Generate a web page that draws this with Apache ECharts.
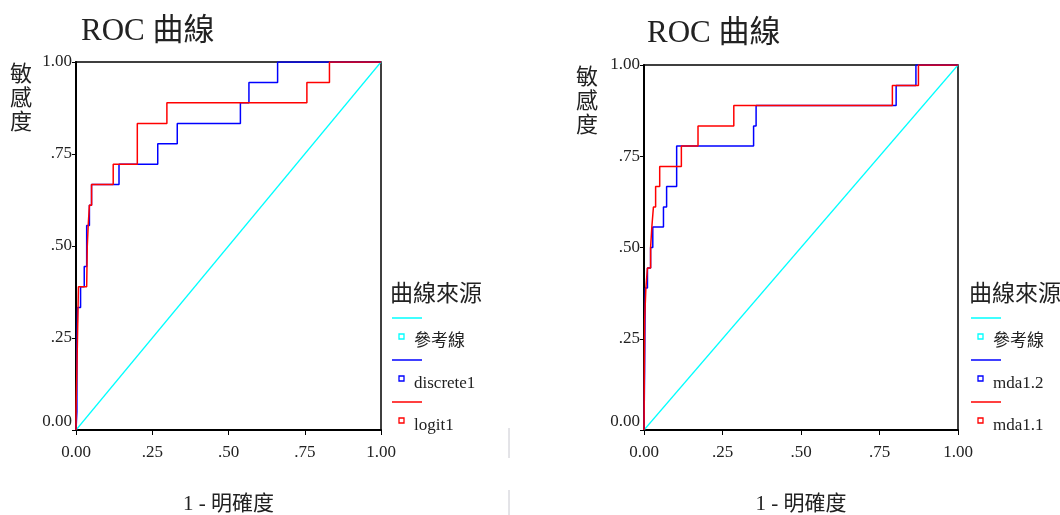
<!DOCTYPE html>
<html><head><meta charset="utf-8">
<script src="https://cdn.jsdelivr.net/npm/echarts@6/dist/echarts.min.js"></script>
<style>html,body{margin:0;padding:0;background:#fff}#c{width:1060px;height:515px}</style>
</head><body><div id="c"></div>
<script>
// ---- data ----
const titleText = 'ROC 曲線';
const yName = '敏感度';
const xName = '1 - 明確度';
const legendTitle = '曲線來源';
const tickValues = [0, 0.25, 0.5, 0.75, 1];
const tickLabels = ['0.00', '.25', '.50', '.75', '1.00'];

const refName = '參考線';
const refX = [0, 1];
const refY = [0, 1];

// left chart
const leftNames = ['discrete1', 'logit1'];
const discreteX = [0, 0.003, 0.003, 0.005, 0.005, 0.015, 0.015, 0.027, 0.027, 0.035, 0.035, 0.044, 0.044, 0.051, 0.051, 0.141, 0.141, 0.268, 0.268, 0.332, 0.332, 0.539, 0.539, 0.567, 0.567, 0.661, 0.661, 1];
const discreteY = [0, 0.05, 0.222, 0.222, 0.333, 0.333, 0.389, 0.389, 0.444, 0.444, 0.556, 0.556, 0.611, 0.611, 0.667, 0.667, 0.722, 0.722, 0.778, 0.778, 0.833, 0.833, 0.889, 0.889, 0.944, 0.944, 1, 1];
const logitX = [0, 0, 0.003, 0.003, 0.008, 0.008, 0.035, 0.037, 0.04, 0.044, 0.051, 0.051, 0.122, 0.122, 0.201, 0.201, 0.298, 0.298, 0.757, 0.757, 0.831, 0.831, 1];
const logitY = [0, 0.056, 0.056, 0.167, 0.167, 0.389, 0.389, 0.5, 0.556, 0.611, 0.611, 0.667, 0.667, 0.722, 0.722, 0.833, 0.833, 0.889, 0.889, 0.944, 0.944, 1, 1];

// right chart
const rightNames = ['mda1.2', 'mda1.1'];
const mda12X = [0, 0.002, 0.004, 0.004, 0.011, 0.011, 0.021, 0.021, 0.028, 0.028, 0.062, 0.062, 0.072, 0.072, 0.104, 0.104, 0.349, 0.349, 0.357, 0.357, 0.803, 0.803, 0.866, 0.866, 1];
const mda12Y = [0, 0.167, 0.167, 0.389, 0.389, 0.444, 0.444, 0.5, 0.5, 0.556, 0.556, 0.611, 0.611, 0.667, 0.667, 0.778, 0.778, 0.833, 0.833, 0.889, 0.889, 0.944, 0.944, 1, 1];
const mda11X = [0, 0.002, 0.006, 0.006, 0.011, 0.011, 0.021, 0.021, 0.025, 0.025, 0.03, 0.03, 0.037, 0.037, 0.05, 0.05, 0.119, 0.119, 0.172, 0.172, 0.286, 0.286, 0.791, 0.791, 0.874, 0.874, 1];
const mda11Y = [0, 0.3, 0.3, 0.389, 0.389, 0.444, 0.444, 0.5, 0.5, 0.556, 0.556, 0.611, 0.611, 0.667, 0.667, 0.722, 0.722, 0.778, 0.778, 0.833, 0.833, 0.889, 0.889, 0.944, 0.944, 1, 1];

const colors = {ref: '#00ffff', a: '#0000ff', b: '#ff0000'};
const FONT = "'Liberation Serif', 'Noto Sans CJK TC', serif";
const TXT = '#222';

const zip = (xs, ys) => xs.map((x, i) => [x, ys[i]]);

const chart = echarts.init(document.getElementById('c'), null, {renderer: 'canvas'});

const grids = [
  {left: 76, top: 62, width: 305, height: 368},
  {left: 644, top: 65, width: 314, height: 365}
];

function fmt(v) {
  const i = tickValues.findIndex(t => Math.abs(t - v) < 1e-9);
  return i >= 0 ? tickLabels[i] : '';
}

const xAxes = grids.map((g, i) => ({
  type: 'value', gridIndex: i, min: 0, max: 1, interval: 0.25,
  axisLine: {show: true, lineStyle: {color: '#000', width: 2}},
  axisTick: {show: true, length: 5, lineStyle: {color: '#000', width: 1}},
  axisLabel: {formatter: fmt, fontFamily: FONT, fontSize: 17, color: TXT, margin: 14},
  splitLine: {show: false},
  name: xName, nameLocation: 'middle', nameGap: 64,
  nameTextStyle: {fontFamily: FONT, fontSize: 21, color: TXT}
}));
const yAxes = grids.map((g, i) => ({
  type: 'value', gridIndex: i, min: 0, max: 1, interval: 0.25,
  axisLine: {show: true, lineStyle: {color: '#000', width: 2}},
  axisTick: {show: true, length: 4, lineStyle: {color: '#000', width: 1}},
  axisLabel: {formatter: fmt, fontFamily: FONT, fontSize: 17, color: TXT, margin: 4, verticalAlignMinLabel: 'bottom'},
  splitLine: {show: false}
}));

function lineSeries(name, xs, ys, color, idx, width) {
  return {
    type: 'line', name: name, xAxisIndex: idx, yAxisIndex: idx,
    data: zip(xs, ys), showSymbol: false, symbol: 'none',
    lineStyle: {color: color, width: width}, itemStyle: {color: color},
    animation: false, silent: true
  };
}

const series = [
  lineSeries(refName, refX, refY, colors.ref, 0, 1.2),
  lineSeries(leftNames[0], discreteX, discreteY, colors.a, 0, 1.5),
  lineSeries(leftNames[1], logitX, logitY, colors.b, 0, 1.5),
  lineSeries(refName, refX, refY, colors.ref, 1, 1.2),
  lineSeries(rightNames[0], mda12X, mda12Y, colors.a, 1, 1.5),
  lineSeries(rightNames[1], mda11X, mda11Y, colors.b, 1, 1.5)
];

// legend built as graphics
function legendGraphics(x0, titleY, names) {
  const items = [];
  items.push({type: 'text', left: x0, top: titleY - 13,
    style: {text: legendTitle, font: '23px ' + FONT, fill: TXT}});
  const cols = [colors.ref, colors.a, colors.b];
  const labels = [refName].concat(names);
  labels.forEach((lab, i) => {
    const ly = titleY + 22 + i * 42;
    items.push({type: 'line', shape: {x1: x0 + 2, y1: ly, x2: x0 + 32, y2: ly},
      style: {stroke: cols[i], lineWidth: 1.5}});
    items.push({type: 'rect', shape: {x: x0 + 9, y: ly + 16, width: 5, height: 5},
      style: {fill: '#fff', stroke: cols[i], lineWidth: 1.3}});
    items.push({type: 'text', left: x0 + 24, top: ly + 15,
      style: {text: lab, font: '17px ' + FONT, fill: TXT}});
  });
  return items;
}

function yNameGraphic(x, y) {
  return {type: 'text', left: x, top: y,
    style: {text: yName.split('').join('\n'), font: '22px ' + FONT, fill: TXT, lineHeight: 24}};
}

const graphic = [].concat(
  legendGraphics(390, 296, leftNames),
  legendGraphics(969, 296, rightNames),
  [yNameGraphic(10, 63), yNameGraphic(576, 66),
   {type: 'line', shape: {x1: 509, y1: 428, x2: 509, y2: 458}, style: {stroke: '#c8c8d0', lineWidth: 1}},
   {type: 'line', shape: {x1: 509, y1: 490, x2: 509, y2: 515}, style: {stroke: '#c8c8d0', lineWidth: 1}}]
);

chart.setOption({
  backgroundColor: '#fff',
  animation: false,
  title: [
    {text: titleText, left: 76, top: 11, textStyle: {fontFamily: FONT, fontSize: 31, fontWeight: 'normal', color: TXT}},
    {text: titleText, left: 642, top: 13, textStyle: {fontFamily: FONT, fontSize: 31, fontWeight: 'normal', color: TXT}}
  ],
  grid: grids.map(g => Object.assign({show: true, borderColor: '#000', borderWidth: 1.5, backgroundColor: 'transparent', containLabel: false, outerBoundsMode: 'none'}, g)),
  xAxis: xAxes,
  yAxis: yAxes,
  series: series,
  graphic: graphic
});
</script>
</body></html>
